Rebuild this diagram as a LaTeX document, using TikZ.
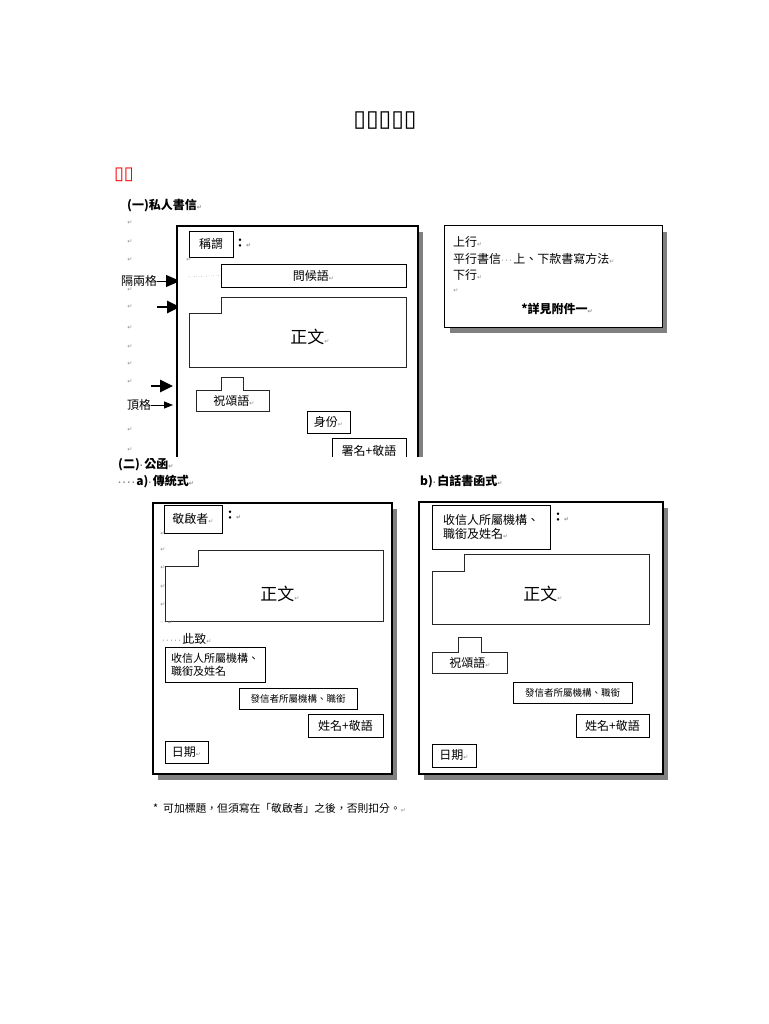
\documentclass[tikz,border=0pt]{standalone}
\usepackage{fontspec}
\setmainfont{Noto Sans CJK TC}
\newfontfamily\dejavu{DejaVu Sans}
\usetikzlibrary{arrows.meta,positioning}
\newcommand{\rmk}{{\dejavu\fontsize{6}{6}\selectfont\textcolor{black!45}{↵}}}
\newcommand{\spc}{{\dejavu\fontsize{8}{8}\selectfont\textcolor{black!50}{·}}\hspace{1.5pt}}

\begin{document}
\begin{tikzpicture}[x=1pt, y=-1pt,
  tbox/.style={draw, line width=0.8pt, fill=white, inner sep=0pt, font=\fontsize{12}{14}\selectfont},
  frame/.style={draw, line width=2pt, fill=white},
  shade/.style={fill=black!50},
  body/.style={draw=black!85, line width=0.8pt, fill=white},
  head/.style={font=\bfseries\fontsize{12}{14}\selectfont, anchor=west, inner sep=0pt},
  txt/.style={font=\fontsize{12}{14}\selectfont, anchor=west, inner sep=0pt},
  ret/.style={inner sep=0pt, font=\dejavu\fontsize{6}{6}\selectfont, text=black!45},
  bigarrow/.style={-{Triangle[length=14pt,width=12pt]}, line width=1pt},
  fatarrow/.style={-{Triangle[length=13pt,width=12pt]}, line width=2.6pt},
  smallarrow/.style={-{Triangle[length=9pt,width=7pt]}, line width=0.8pt},
]
\useasboundingbox[fill=white] (0,0) rectangle (768,1024);

\node[font=\dejavu\fontsize{23}{23}\selectfont] (title) at (385,121) {▯▯▯▯▯};
\node[font=\dejavu\fontsize{18}{18}\selectfont, text=red] (sample) at (124,175) {▯▯};
\node[head] (sec1) at (127,206) {(一)私人書信\rmk};

\foreach \y in {223,242,260,290,307,328,347,364,382,430,450} {
  \node[ret] at (130,\y) {↵};
}

\node[txt] (twosp) at (121,281) {隔兩格};
\coordinate (twospEnd) at (180,281);
\draw[bigarrow] (twosp.east) -- (twospEnd);
\coordinate (indA) at (157,307);
\coordinate (indAEnd) at (180,307);
\draw[fatarrow] (indA) -- (indAEnd);
\coordinate (indB) at (151,386);
\coordinate (indBEnd) at (173,386);
\draw[fatarrow] (indB) -- (indBEnd);
\node[txt] (flush) at (127,405) {頂格};
\coordinate (flushEnd) at (173,405);
\draw[smallarrow] (flush.east) -- (flushEnd);

\begin{scope}
\clip (170,220) rectangle (430,456);
\fill[shade] (182,232) rectangle (423,470);
\draw[frame] (177,470) -- (177,226) -- (418,226) -- (418,470);
\node[tbox, minimum width=44pt, minimum height=26pt] (salut) at (211,244) {稱謂};
\node[txt, font=\bfseries\fontsize{12}{14}\selectfont] (colonA) at (234,243) {：\rmk};
\node[ret] at (189,260) {↵};
\node[tbox, minimum width=185pt, minimum height=23pt] (greet) at (313.5,275.5) {問候語\rmk};
\coordinate (greetDots) at (187,277);
\draw[dotted, black!50] (greetDots) -- (greet.west);
\draw[body] (189,313) -- (221,313) -- (221,297) -- (406,297) -- (406,367) -- (189,367) -- cycle;
\node[font=\fontsize{17}{17}\selectfont] (bodyA) at (310,337) {正文\rmk};
\draw[body] (196,390) -- (221,390) -- (221,377) -- (243,377) -- (243,390) -- (269,390) -- (269,411) -- (196,411) -- cycle;
\node[font=\fontsize{12}{14}\selectfont] (wishA) at (234,401) {祝頌語\rmk};
\node[tbox, minimum width=43pt, minimum height=22pt] (rank) at (328.5,422) {身份\rmk};
\node[tbox, minimum width=74pt, minimum height=26pt] (signA) at (369,451) {署名+敬語};
\end{scope}

\fill[shade] (450,232) rectangle (667,333);
\node[draw, line width=1pt, fill=white, minimum width=218pt, minimum height=101pt, inner sep=0pt] (note) at (553,276.5) {};
\node[txt] (up) at (453,242) {上行\rmk};
\node[txt] (level) at (453,259) {平行書信\spc\spc\spc 上、下款書寫方法\rmk};
\node[txt] (down) at (453,275) {下行\rmk};
\node[ret] at (456,291) {↵};
\node[font=\bfseries\fontsize{12}{14}\selectfont] (seeapp) at (557,309) {*詳見附件一\rmk};

\node[head] (sec2) at (118,465) {(二)\spc 公函\rmk};
\node[head] (sec2a) at (118,482) {\spc\spc\spc\spc a)\spc 傳統式\rmk};
\node[head] (sec2b) at (420,482) {b)\spc 白話書函式\rmk};

% traditional
\fill[shade] (158,509) rectangle (397,780);
\draw[frame] (153,503) rectangle (392,774);
\node[tbox, minimum width=58pt, minimum height=28pt] (salutB) at (193,519) {敬啟者\rmk};
\node[txt, font=\bfseries\fontsize{12}{14}\selectfont] (colonB) at (224,515) {：\rmk};
\foreach \y in {534,550,568,587,605} {
  \node[ret] at (163,\y) {↵};
}
\draw[body] (165,566) -- (198,566) -- (198,550) -- (383,550) -- (383,621) -- (165,621) -- cycle;
\node[font=\fontsize{17}{17}\selectfont] (bodyB) at (280,594) {正文\rmk};
\node[ret, anchor=west] (gapB) at (160,623) {····↵};
\node[txt] (closeB) at (162,639) {\spc\spc\spc\spc\spc 此致\rmk};
\node[tbox, minimum width=100pt, minimum height=35pt, align=left, font=\fontsize{11}{13}\selectfont] (recvB) at (215,664.5) {收信人所屬機構、\\職銜及姓名};
\node[tbox, minimum width=118pt, minimum height=21pt, font=\fontsize{9.5}{11}\selectfont] (sendB) at (298,698.5) {發信者所屬機構、職銜};
\node[tbox, minimum width=75pt, minimum height=23pt] (signB) at (345.5,725.5) {姓名+敬語};
\node[tbox, minimum width=43pt, minimum height=22pt] (dateB) at (186.5,752) {日期\rmk};

% plain style
\fill[shade] (424,508) rectangle (668,780);
\draw[frame] (419,502) rectangle (663,774);
\node[tbox, minimum width=118pt, minimum height=44pt, align=left] (recvC) at (491,527) {收信人所屬機構、\\職銜及姓名\rmk};
\node[txt, font=\bfseries\fontsize{12}{14}\selectfont] (colonC) at (552,517) {：\rmk};
\draw[body] (432,571) -- (464,571) -- (464,554) -- (649,554) -- (649,624) -- (432,624) -- cycle;
\node[font=\fontsize{17}{17}\selectfont] (bodyC) at (543,594) {正文\rmk};
\draw[body] (432,652) -- (458,652) -- (458,637) -- (481,637) -- (481,652) -- (507,652) -- (507,673) -- (432,673) -- cycle;
\node[font=\fontsize{12}{14}\selectfont] (wishC) at (470,663) {祝頌語\rmk};
\node[tbox, minimum width=119pt, minimum height=21pt, font=\fontsize{9.5}{11}\selectfont] (sendC) at (572.5,692.5) {發信者所屬機構、職銜};
\node[tbox, minimum width=73pt, minimum height=23pt] (signC) at (612.5,725.5) {姓名+敬語};
\node[tbox, minimum width=44pt, minimum height=23pt] (dateC) at (454,755.5) {日期\rmk};

\node[txt, font=\fontsize{10.8}{12}\selectfont] (footnote) at (153,808) {*\hspace{5pt}可加標題，但須寫在「敬啟者」之後，否則扣分。\rmk};
\end{tikzpicture}
\end{document}
